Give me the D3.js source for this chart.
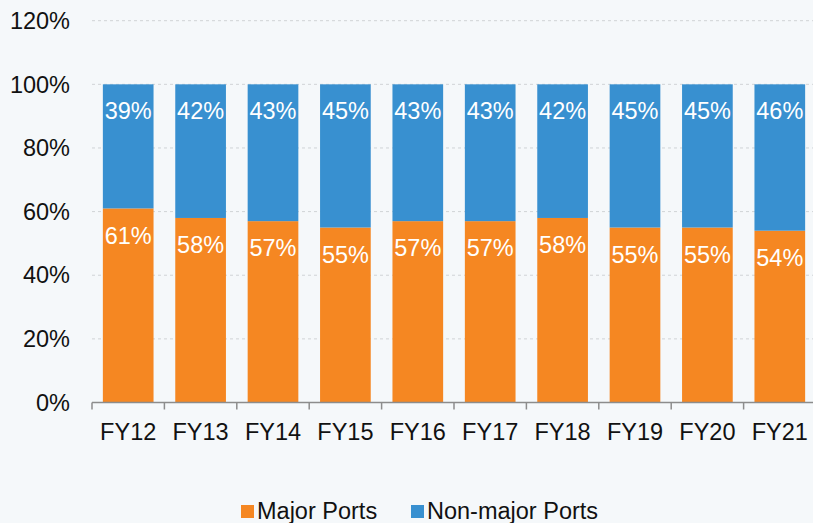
<!DOCTYPE html>
<html>
<head>
<meta charset="utf-8">
<script src="https://cdn.jsdelivr.net/npm/d3@7"></script>
<style>
  body { margin: 0; background: #f5f8fa; }
  svg { display: block; font-family: "Liberation Sans", Arial, sans-serif; }
</style>
</head>
<body>
<div id="chart"></div>
<script>
const years = ["FY12", "FY13", "FY14", "FY15", "FY16", "FY17", "FY18", "FY19", "FY20", "FY21"];
const majorPorts = [61, 58, 57, 55, 57, 57, 58, 55, 55, 54];
const nonMajorPorts = [39, 42, 43, 45, 43, 43, 42, 45, 45, 46];
const yTicks = [0, 20, 40, 60, 80, 100, 120];

const width = 813, height = 523;
const orange = "#f58722", blue = "#3890d0";
const fs = 23.5;

const svg = d3.select("#chart").append("svg")
  .attr("width", width)
  .attr("height", height);

const x = d3.scaleBand()
  .domain(years)
  .range([92, 816])
  .paddingInner(0.3)
  .paddingOuter(0.15);

const y = d3.scaleLinear()
  .domain([0, 120])
  .range([402.5, 20.7]);

// gridlines
svg.append("g")
  .selectAll("line")
  .data(yTicks.slice(1))
  .enter().append("line")
  .attr("x1", 92)
  .attr("x2", width)
  .attr("y1", d => y(d))
  .attr("y2", d => y(d))
  .attr("stroke", "#d0d3d6")
  .attr("stroke-dasharray", "3,3");

// y labels
svg.append("g")
  .selectAll("text")
  .data(yTicks)
  .enter().append("text")
  .attr("x", 70)
  .attr("y", d => y(d))
  .attr("dy", "0.35em")
  .attr("text-anchor", "end")
  .attr("font-size", fs)
  .attr("fill", "#111")
  .text(d => d + "%");

const stackData = years.map((yr, i) => ({ year: yr, major: majorPorts[i], nonMajor: nonMajorPorts[i] }));

// bars
const g = svg.append("g");
g.selectAll("rect.major")
  .data(stackData)
  .enter().append("rect")
  .attr("class", "major")
  .attr("x", d => x(d.year))
  .attr("width", x.bandwidth())
  .attr("y", d => y(d.major))
  .attr("height", d => y(0) - y(d.major))
  .attr("fill", orange);

g.selectAll("rect.nonmajor")
  .data(stackData)
  .enter().append("rect")
  .attr("class", "nonmajor")
  .attr("x", d => x(d.year))
  .attr("width", x.bandwidth())
  .attr("y", d => y(d.major + d.nonMajor))
  .attr("height", d => y(d.major) - y(d.major + d.nonMajor))
  .attr("fill", blue);

// labels
g.selectAll("text.lmajor")
  .data(stackData)
  .enter().append("text")
  .attr("x", d => x(d.year) + x.bandwidth() / 2)
  .attr("y", d => y(d.major) + 27)
  .attr("dy", "0.35em")
  .attr("text-anchor", "middle")
  .attr("font-size", fs)
  .attr("fill", "#fff")
  .text(d => d.major + "%");

g.selectAll("text.lnon")
  .data(stackData)
  .enter().append("text")
  .attr("x", d => x(d.year) + x.bandwidth() / 2)
  .attr("y", d => y(d.major + d.nonMajor) + 26)
  .attr("dy", "0.35em")
  .attr("text-anchor", "middle")
  .attr("font-size", fs)
  .attr("fill", "#fff")
  .text(d => d.nonMajor + "%");

// x axis
const axis = svg.append("g");
axis.append("line")
  .attr("x1", 92).attr("x2", width)
  .attr("y1", y(0)).attr("y2", y(0))
  .attr("stroke", "#8c8c8c").attr("stroke-width", 1.5);

const step = x.step();
axis.selectAll("line.tick")
  .data(d3.range(years.length + 1))
  .enter().append("line")
  .attr("x1", i => 92 + i * step)
  .attr("x2", i => 92 + i * step)
  .attr("y1", y(0))
  .attr("y2", y(0) + 7)
  .attr("stroke", "#8c8c8c").attr("stroke-width", 1.5);

axis.selectAll("text")
  .data(years)
  .enter().append("text")
  .attr("x", d => x(d) + x.bandwidth() / 2)
  .attr("y", 431.5)
  .attr("dy", "0.35em")
  .attr("text-anchor", "middle")
  .attr("font-size", fs)
  .attr("fill", "#111")
  .text(d => d);

// legend
const legend = svg.append("g");
const items = [{ name: "Major Ports", color: orange, x: 241 }, { name: "Non-major Ports", color: blue, x: 411 }];
items.forEach(it => {
  legend.append("rect")
    .attr("x", it.x).attr("y", 505)
    .attr("width", 13).attr("height", 13)
    .attr("fill", it.color);
  legend.append("text")
    .attr("x", it.x + 16).attr("y", 511)
    .attr("dy", "0.35em")
    .attr("font-size", fs)
    .attr("fill", "#111")
    .text(it.name);
});
</script>
</body>
</html>
